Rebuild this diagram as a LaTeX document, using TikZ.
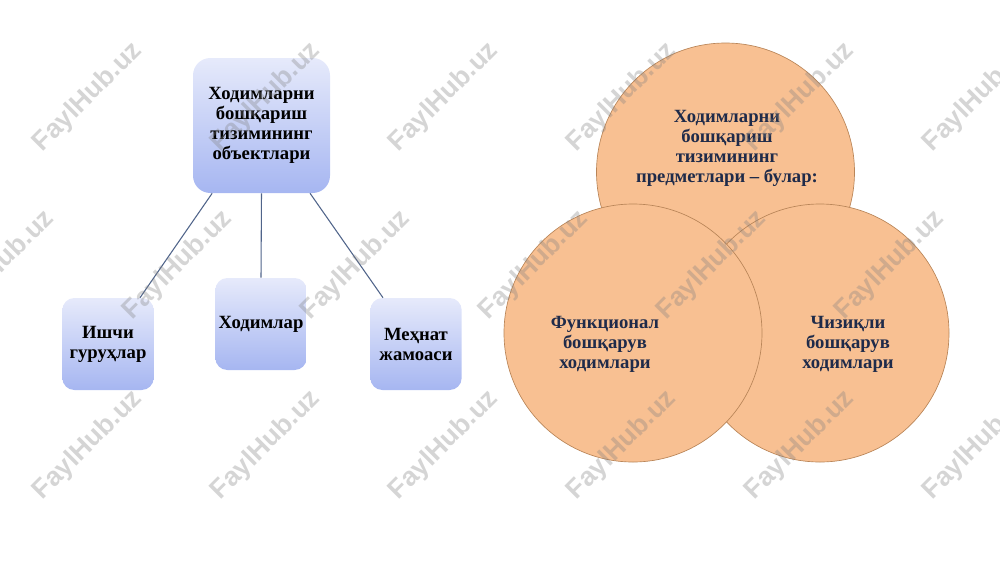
\documentclass[tikz,border=0pt]{standalone}
\usepackage{fontspec}
\setmainfont{Liberation Serif}
\newfontfamily\wmfont{Liberation Sans}
\definecolor{boxtop}{HTML}{E6EAFB}
\definecolor{boxbot}{HTML}{A6B6F1}
\definecolor{peach}{HTML}{F8C092}
\definecolor{peachline}{HTML}{B98558}
\definecolor{navy}{HTML}{1F2B4A}
\definecolor{conn}{HTML}{50648A}
\tikzset{
  gbox/.style={rounded corners=11pt, top color=boxtop, bottom color=boxbot, draw=none,
    align=center, font=\bfseries\fontsize{14pt}{15pt}\selectfont, text=black, inner sep=0pt},
  leafbox/.style={gbox, minimum width=68.5pt, minimum height=69pt, rounded corners=9pt},
  conline/.style={draw=conn, line width=0.8pt},
  venn/.style={circle, fill=peach, draw=peachline, line width=0.5pt, minimum size=193.5pt, inner sep=0pt},
  venntext/.style={align=center, font=\bfseries\fontsize{14pt}{15pt}\selectfont, text=navy},
  wm/.style={rotate=45, font=\wmfont\bfseries\fontsize{20pt}{20pt}\selectfont, text=gray, opacity=0.33}
}
\begin{document}
\begin{tikzpicture}[x=0.75pt, y=-0.75pt]
\useasboundingbox (0,0) rectangle (1000,562);
% left tree
\node[gbox, minimum width=102.75pt, minimum height=101.25pt, rounded corners=13pt] (top) at (261.5,125.5)
  {Ходимларни\\бошқариш\\тизимининг\\объектлари};
\node[leafbox] (ishchi) at (108,344) {Ишчи\\гуруҳлар};
\node[leafbox] (xodim) at (261,324) {Ходимлар};
\node[leafbox] (mehnat) at (416,344) {Меҳнат\\жамоаси};
\draw[conline] ([xshift=-37pt]top.south) -- ([xshift=24pt]ishchi.north);
\draw[conline] (top.south) -- (xodim.north);
\draw[conline] ([xshift=36.4pt]top.south) -- ([xshift=-24.75pt]mehnat.north);
% venn
\node[venn] (ctop) at (725.5,172) {};
\node[venn] (cright) at (820,333) {};
\node[venn] (cleft) at (633,333) {};
\node[venntext] (ttop) at (727,148) {Ходимларни\\бошқариш\\тизимининг\\предметлари – булар:};
\node[venntext] (tleft) at (605,344) {Функционал\\бошқарув\\ходимлари};
\node[venntext] (tright) at (848,344) {Чизиқли\\бошқарув\\ходимлари};
% watermarks
\foreach \x in {88,266,444,622,800,978}{
  \node[wm] (wa\x) at (\x,97) {FaylHub.uz};
  \node[wm] (wc\x) at (\x,445) {FaylHub.uz};
}
\foreach \x in {0,178,356,534,712,890}{
  \node[wm] (wb\x) at (\x,265) {FaylHub.uz};
}
\end{tikzpicture}
\end{document}
